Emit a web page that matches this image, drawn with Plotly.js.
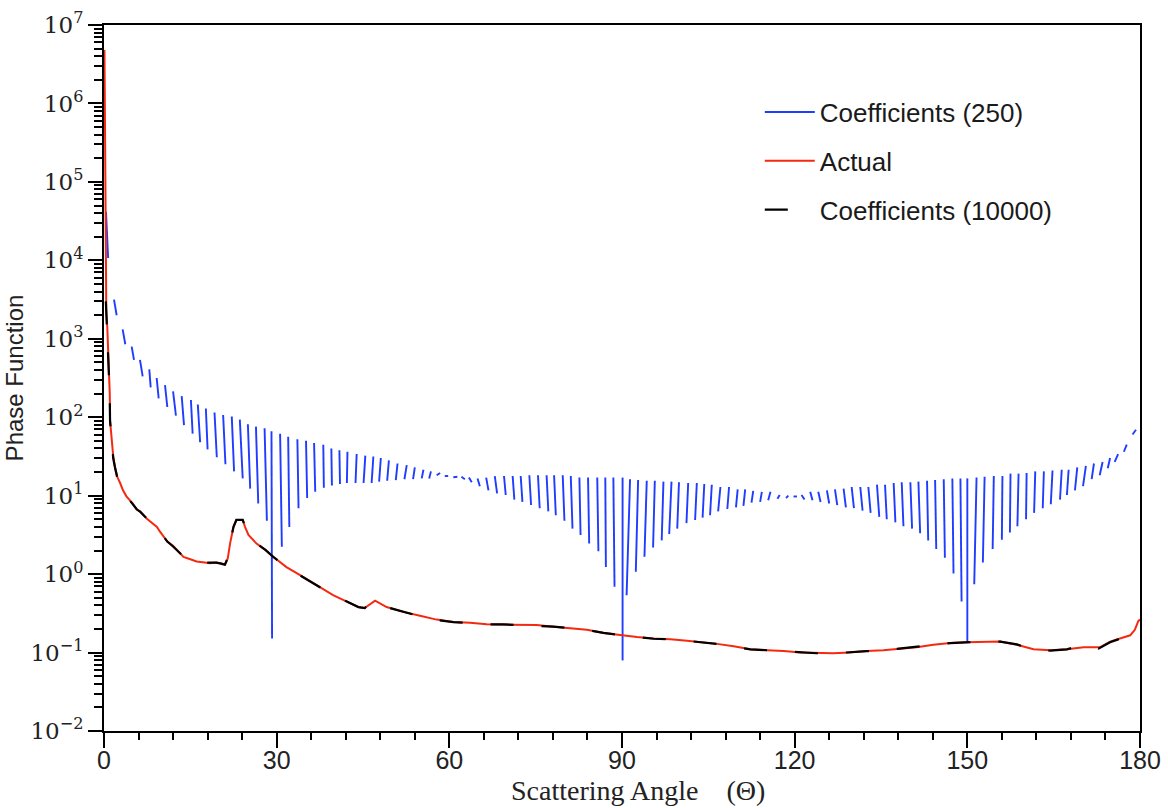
<!DOCTYPE html>
<html>
<head>
<meta charset="utf-8">
<script src="https://cdn.plot.ly/plotly-3.0.1.min.js"></script>
<style>html,body{margin:0;padding:0;background:#fff;}#chart{width:1168px;height:808px;}</style>
</head>
<body>
<div id="chart"></div>
<script>
// ---- Coefficients (250): each positive lobe read as one stroke (top point -> bottom point)
var blueTopAngle = [0.35,1.74,3.24,4.81,6.25,7.87,9.15,10.6,12.0,13.5,
  15.1,16.3,17.7,19.2,20.7,22.2,23.6,25.0,26.4,27.9,
  29.1,30.6,32.0,33.6,35.1,36.5,38.1,39.5,40.9,42.3,
  43.9,45.4,46.8,48.1,49.5,51.0,52.6,54.0,55.5,56.8,
  58.4,59.8,61.4,62.1,63.4,64.9,66.4,67.9,69.5,71.0,
  72.4,73.9,75.4,76.9,78.2,79.7,81.1,82.6,84.1,85.7,
  87.1,88.5,90.1,91.4,92.8,94.3,95.7,97.2,98.6,99.9,
  101.5,103.0,104.3,105.6,107.1,108.6,110.1,111.4,112.8,114.3,
  115.8,117.4,118.9,120.4,121.2,122.7,124.1,125.6,127.0,128.5,
  129.9,131.4,132.8,134.3,135.7,137.2,138.6,140.1,141.5,143.0,
  144.4,145.9,147.4,148.8,150.0,151.6,153.0,154.6,156.1,157.5,
  158.9,160.3,161.8,163.3,164.8,166.4,167.6,169.1,170.6,172.0,
  173.5,174.8,176.2,177.7,179.3];
var blueTopValue = [41700,3162,1318,794,537,407,316,257,214,186,
  166,145,129,115,107,102,93.3,81.3,75.9,72.4,
  66.1,61.7,56.2,52.5,50.1,46.8,44.7,39.8,38.0,36.3,
  33.9,32.4,31.6,30.2,28.2,25.7,24.5,22.9,21.4,20.4,
  19.5,17.8,17.4,17.4,17.0,16.6,17.0,17.8,17.8,17.8,
  17.8,18.2,18.2,18.2,18.2,18.2,17.8,17.0,17.0,17.0,
  17.0,17.0,17.0,16.2,15.8,15.5,15.5,15.1,15.1,14.8,
  14.5,14.5,14.1,13.8,12.9,12.9,12.0,12.0,11.5,11.2,
  11.2,10.2,10.0,9.77,10.2,11.2,11.2,11.7,12.0,12.3,
  12.9,12.9,12.9,13.8,13.8,14.5,14.8,14.8,15.1,15.5,
  15.8,16.2,16.6,16.6,16.6,17.0,17.4,17.8,17.8,19.1,
  19.1,19.5,20.4,20.4,20.9,21.4,21.4,22.9,24.0,25.7,
  26.9,30.2,33.9,44.7,69.2];
var blueBotAngle = [0.72,2.2,3.70,5.21,6.72,8.11,9.50,11.0,12.5,13.9,
  15.4,16.7,18.0,19.6,21.1,22.6,24.1,25.4,26.8,28.3,
  29.2,30.9,32.2,33.8,35.3,36.7,38.2,39.6,41.0,42.2,
  43.7,45.1,46.5,47.8,49.2,50.7,52.2,53.7,55.2,56.5,
  57.8,59.2,60.7,62.7,63.9,65.3,66.8,68.3,69.8,71.3,
  72.7,74.2,75.7,77.2,78.5,80.0,81.4,82.8,84.3,85.9,
  87.2,88.7,90.1,90.8,92.4,93.9,95.4,96.9,98.2,99.6,
  101.2,102.7,104.0,105.3,106.7,108.3,109.8,111.1,112.5,114.0,
  115.4,117.0,118.5,119.8,121.7,123.1,124.5,126.0,127.4,128.9,
  130.3,131.8,133.2,134.7,136.0,137.5,138.9,140.4,141.8,143.2,
  144.6,146.1,147.6,149.0,150.0,151.2,152.7,154.4,156.0,157.4,
  158.7,160.2,161.6,163.1,164.5,166.1,167.3,168.7,170.1,171.6,
  173.0,174.4,175.6,177.2,178.7];
var blueBotValue = [10700,1995,851,537,331,240,174,135,105,79.4,
  61.7,47.9,38.9,30.9,25.1,20.4,16.6,12.3,7.94,4.79,
  0.151,2.24,3.98,6.92,9.33,11.2,12.6,13.5,14.1,14.5,
  14.5,14.5,14.5,15.1,15.5,15.8,16.2,16.2,16.6,16.6,
  18.2,17.8,17.2,16.2,14.8,13.2,11.7,10.7,10.2,8.91,
  8.32,7.59,6.92,6.31,5.62,4.79,3.80,3.16,2.45,1.95,
  1.23,0.692,0.0794,0.537,1.07,1.66,2.19,2.69,3.24,3.80,
  4.47,4.90,5.25,5.62,6.31,6.76,7.08,7.41,8.13,8.32,
  8.71,9.12,9.33,9.77,8.91,8.71,8.32,7.94,7.59,7.08,
  6.92,6.46,6.03,5.37,5.01,4.57,4.07,3.80,3.31,2.69,
  2.09,1.62,1.02,0.447,0.138,0.741,1.41,2.09,2.75,3.39,
  4.07,5.01,6.03,6.92,7.76,8.91,10.2,11.7,13.2,16.2,
  18.2,22.4,26.9,36.3,60.3];

// ---- Actual
var redAngle = [0.08,0.15,0.22,0.3,0.4,0.57,0.8,1.0,1.05,1.33,
  1.6,1.9,2.3,2.8,3.3,3.9,5.0,5.7,6.3,7.4,
  8.5,9.2,9.7,11.0,12.0,13.8,15.0,16.1,17.5,18.4,
  19.5,20.3,21.0,21.5,21.9,22.5,23.0,24.1,24.5,25.1,
  26.5,28.0,29.4,31.7,34.0,36.9,39.8,42.1,44.2,45.3,
  46.2,47.1,49.1,52.0,54.9,57.8,60.7,63.6,66.5,69.4,
  72.3,75.2,78.1,81.0,83.9,86.8,89.7,92.6,95.5,98.4,
  101.3,104.1,106.5,109.4,112.3,115.2,118.1,121.0,123.8,126.7,
  129.6,132.5,135.4,138.3,141.2,144.1,147.0,149.9,152.8,155.7,
  158.6,161.5,164.4,167.3,170.2,173.1,174.8,176.5,178.3,179.1,
  179.7,180];
var redValue = [4.8e6,4.0e5,3.2e4,5000,2240,1410,562,200,91,51,
  32,23.4,17.4,14.5,11.7,9.8,7.9,6.6,6.3,5.1,
  4.4,4.0,3.5,2.6,2.3,1.66,1.55,1.45,1.41,1.38,
  1.41,1.38,1.32,1.58,2.45,4.0,4.9,4.9,4.0,3.16,
  2.45,2.04,1.66,1.23,0.98,0.72,0.54,0.45,0.38,0.37,
  0.41,0.46,0.38,0.33,0.295,0.263,0.245,0.240,0.229,0.229,
  0.224,0.224,0.214,0.204,0.195,0.178,0.166,0.158,0.151,0.148,
  0.141,0.135,0.129,0.120,0.110,0.107,0.105,0.100,0.098,0.098,
  0.100,0.105,0.107,0.112,0.117,0.126,0.132,0.135,0.138,0.138,
  0.126,0.110,0.107,0.110,0.117,0.117,0.138,0.151,0.166,0.195,
  0.251,0.263];

// ---- Coefficients (10000)
var blackAngle = [0.32,0.4,0.57,0.8,1.0,1.05,1.33,1.6,1.9,2.3,
  2.8,3.3,3.9,5.0,5.7,6.3,7.4,8.5,9.2,9.7,
  11.0,12.0,13.8,15.0,16.1,17.5,18.4,19.5,20.3,21.0,
  21.5,21.9,22.5,23.0,24.1,24.5,25.1,26.5,28.0,29.4,
  31.7,34.0,36.9,39.8,42.1,44.2,45.3,46.2,47.1,49.1,
  52.0,54.9,57.8,60.7,63.6,66.5,69.4,72.3,75.2,78.1,
  81.0,83.9,86.8,89.7,92.6,95.5,98.4,101.3,104.1,106.5,
  109.4,112.3,115.2,118.1,121.0,123.8,126.7,129.6,132.5,135.4,
  138.3,141.2,144.1,147.0,149.9,152.8,155.7,158.6,161.5,164.4,
  167.3,170.2,172.8,174.8,176.5,178.3,179.1,179.7,180];
var blackValue = [3000,2100,1350,560,190,90,52,30,23,17,
  14.3,11.5,9.8,7.8,6.7,6.2,5.1,4.3,4.0,3.5,
  2.6,2.25,1.68,1.55,1.45,1.40,1.40,1.40,1.36,1.32,
  1.6,2.5,4.0,4.9,4.9,4.1,3.2,2.45,2.05,1.66,
  1.24,0.97,0.72,0.54,0.45,0.38,0.37,0.41,0.46,0.38,
  0.33,0.29,0.26,0.245,0.238,0.229,0.229,0.224,0.222,0.214,
  0.204,0.195,0.178,0.166,0.158,0.150,0.148,0.141,0.134,0.129,
  0.118,0.110,0.107,0.104,0.100,0.098,0.098,0.100,0.104,0.107,
  0.112,0.118,0.125,0.132,0.135,0.139,0.138,0.127,0.108,0.106,
  0.110,0.126,0.112,0.135,0.150,0.166,0.19,0.21,0.22];

var xTicks = [0,30,60,90,120,150,180];
var yTickVals = [1e-2,1e-1,1e0,1e1,1e2,1e3,1e4,1e5,1e6,1e7];
var yTickText = ['10<sup>\u22122</sup>','10<sup>\u22121</sup>','10<sup>0</sup>','10<sup>1</sup>','10<sup>2</sup>','10<sup>3</sup>','10<sup>4</sup>','10<sup>5</sup>','10<sup>6</sup>','10<sup>7</sup>'];

// build stroke path for blue series: top -> bottom, gap between lobes
var bx = [], by = [];
for (var i = 0; i < blueTopAngle.length; i++) {
  bx.push(blueTopAngle[i], blueBotAngle[i], null);
  by.push(blueTopValue[i], blueBotValue[i], null);
}

var traces = [
  {x: bx, y: by, type: 'scatter', mode: 'lines', name: 'Coefficients (250)',
   connectgaps: false, line: {color: '#1f3cff', width: 1.9}, legendgroup: 'a'},
  {x: redAngle, y: redValue, type: 'scatter', mode: 'lines', name: 'Actual',
   line: {color: '#f42a10', width: 2}, legendgroup: 'b'},
  {x: blackAngle, y: blackValue, type: 'scatter', mode: 'lines', name: 'Coefficients (10000)',
   line: {color: '#000000', width: 2.2, dash: '23px,28px'}, legendgroup: 'c'}
];

var layout = {
  width: 1168, height: 808,
  margin: {l: 104, r: 28, t: 25, b: 77},
  paper_bgcolor: '#ffffff', plot_bgcolor: '#ffffff',
  showlegend: true,
  legend: {x: 0.633, y: 0.91, xanchor: 'left', yanchor: 'top',
    font: {family: 'Liberation Sans, Arial, sans-serif', size: 26, color: '#1a1a1a'},
    bgcolor: 'rgba(0,0,0,0)', tracegroupgap: 12, itemwidth: 50},
  xaxis: {
    range: [0, 180], tickmode: 'array', tickvals: xTicks, ticktext: xTicks.map(String),
    showline: true, mirror: true, linecolor: '#000', linewidth: 2,
    ticks: 'outside', ticklen: 15, tickwidth: 1.5, tickcolor: '#000',
    showgrid: false, zeroline: false, ticklabelstandoff: -9,
    minor: {dtick: 6, ticks: 'outside', ticklen: 7, tickwidth: 1.5, tickcolor: '#000', showgrid: false},
    tickfont: {family: 'Liberation Sans, Arial, sans-serif', size: 25, color: '#222'}
  },
  yaxis: {
    type: 'log', range: [-2, 7], tickmode: 'array', tickvals: yTickVals, ticktext: yTickText,
    showline: true, mirror: true, linecolor: '#000', linewidth: 2,
    ticks: 'outside', ticklen: 14, tickwidth: 1.5, tickcolor: '#000',
    showgrid: false, zeroline: false,
    minor: {dtick: 'D1', ticks: 'outside', ticklen: 8, tickwidth: 1.5, tickcolor: '#000', showgrid: false},
    tickfont: {family: 'DejaVu Serif, serif', size: 23, color: '#222'},
    title: {text: 'Phase Function', font: {family: 'Liberation Sans, Arial, sans-serif', size: 24, color: '#222'}, standoff: 0}
  },
  annotations: [{
    text: 'Scattering Angle\u00a0\u00a0\u00a0\u00a0(\u0398)', xref: 'paper', yref: 'paper',
    x: (638 - 104) / 1036, y: 0, xanchor: 'center', yanchor: 'top', yshift: -42,
    showarrow: false, font: {family: 'Liberation Serif, Times New Roman, serif', size: 28, color: '#222'}
  }]
};

Plotly.newPlot('chart', traces, layout, {displayModeBar: false, responsive: false});
</script>
</body>
</html>
